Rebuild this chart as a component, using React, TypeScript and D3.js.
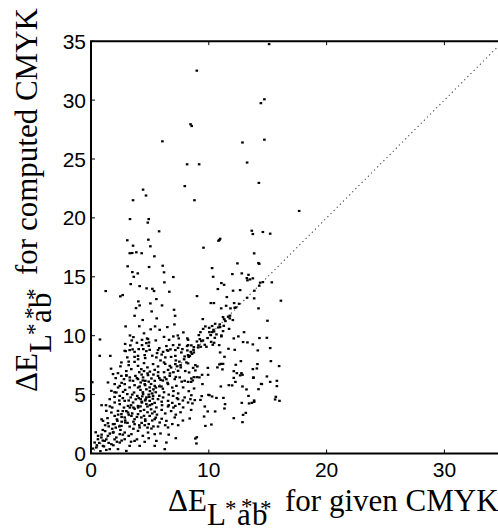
import React from "react";
import * as d3 from "d3";

// Axis ticks
const xTicks = [0, 10, 20, 30];
const yTicks = [0, 5, 10, 15, 20, 25, 30, 35];

// [given ΔE, computed ΔE]
const sparseHigh: [number, number][] = [
  [8.98, 32.5], [8.45, 27.95], [8.55, 27.8], [6.06, 26.5], [12.86, 26.4], [8.16, 24.55], [9.18, 24.55],
  [13.25, 24.7], [7.96, 22.7], [8.78, 21.5], [4.42, 22.4], [4.67, 21.9], [3.57, 21.5], [3.31, 19.9],
  [4.9, 19.9], [4.82, 19.6], [5.78, 18.86], [3.08, 18.1], [4.87, 18.15], [3.57, 17.64], [5.04, 17.59],
  [3.29, 17.0], [3.5, 17.02], [3.85, 17.08], [4.3, 17.0], [5.38, 16.74], [10.96, 18.23], [10.82, 18.06],
  [10.9, 18.12], [9.55, 17.47], [15.12, 34.75], [14.72, 30.07], [14.42, 29.74], [14.72, 26.64],
  [14.25, 22.97], [17.67, 20.59], [13.65, 18.91], [13.74, 18.63], [14.59, 18.8], [15.21, 18.66], [13.85, 16.99],
];

const rightGroup: [number, number][] = [
  [14.22, 16.17], [14.28, 16.1], [13.74, 14.87], [13.5, 14.78], [14.36, 14.5], [14.59, 14.55], [15.35, 14.53],
  [14.28, 14.24], [13.87, 13.82], [13.85, 13.17], [16.12, 12.97], [14.22, 12.32], [14.98, 11.27], [14.3, 9.8],
  [14.93, 9.82], [13.74, 9.26], [14.16, 8.75], [15.21, 8.95], [15.27, 7.84], [15.97, 7.42], [13.74, 7.16],
  [14.08, 7.22], [14.13, 7.59], [13.79, 6.42], [14.93, 6.54], [15.21, 6.08], [15.78, 6.17], [15.78, 5.72],
  [14.5, 5.89], [14.22, 5.46], [15.69, 4.81], [15.63, 4.59], [16.0, 4.47], [13.85, 4.5], [13.65, 4.3],
];

const midUpper: [number, number][] = [
  [12.43, 16.14], [10.28, 15.74], [12.0, 15.23], [10.37, 15.0], [12.8, 15.29], [13.37, 15.17], [13.23, 14.89],
  [13.28, 14.7], [11.07, 14.47], [11.3, 14.32], [10.77, 13.96], [12.06, 13.82], [12.66, 13.87], [9.0, 13.36],
  [13.25, 13.22], [11.53, 13.28], [10.17, 12.77], [10.43, 12.77], [11.47, 12.54], [12.15, 12.77], [12.57, 12.71],
  [11.05, 12.32], [11.84, 12.32], [12.2, 12.37], [11.21, 11.58], [11.64, 11.61], [11.78, 11.47], [11.41, 11.24],
  [12.04, 11.33], [9.49, 11.41],
  [3.11, 15.89], [4.93, 15.83], [6.09, 15.94], [3.51, 15.4], [3.97, 15.29], [3.63, 15.0], [6.2, 15.38],
  [6.99, 14.98], [3.37, 14.38], [4.13, 14.21], [6.23, 14.53], [4.72, 14.02], [5.21, 13.98], [5.35, 13.79],
  [6.65, 13.73], [1.25, 13.79], [2.49, 13.34], [2.69, 13.45], [5.55, 13.11], [4.02, 12.91], [4.13, 12.57],
  [5.04, 12.74], [3.82, 12.34], [6.03, 12.57], [5.15, 12.06], [7.05, 12.2], [3.7, 11.69], [7.14, 11.69],
  [5.58, 11.47], [4.39, 11.33], [2.94, 10.79], [5.44, 10.79], [5.07, 10.54], [5.83, 10.5], [6.48, 10.73], [7.08, 10.96],
];

const midBand: [number, number][] = [
  [9.71, 10.79], [9.52, 10.58], [10.03, 10.67], [10.28, 10.82], [10.54, 11.01], [10.93, 10.96], [10.96, 10.73],
  [11.27, 10.84], [11.72, 10.58], [9.29, 10.3], [9.15, 10.05], [10.05, 10.3], [10.28, 10.3], [10.45, 10.36],
  [10.17, 10.05], [10.65, 10.11], [11.07, 10.02], [11.21, 10.39], [12.99, 10.3], [11.07, 9.94], [10.51, 9.82],
  [10.2, 9.48], [10.45, 9.4], [9.24, 9.71], [8.99, 9.51], [8.24, 9.65], [8.24, 9.2], [8.52, 9.18], [8.73, 9.03],
  [9.12, 9.18], [9.32, 9.06], [9.66, 9.23], [9.37, 9.54], [9.8, 9.06], [10.34, 9.23], [10.88, 9.2], [11.67, 8.89],
  [12.12, 9.77], [12.51, 9.94], [12.91, 9.46], [13.28, 9.43],
  [0.76, 9.68], [3.31, 10.02], [3.6, 9.88], [3.46, 9.6], [4.33, 9.65], [4.76, 9.77], [4.93, 9.43], [6.63, 9.65],
  [6.99, 9.94], [7.45, 9.77], [7.37, 10.02], [7.84, 10.28], [8.18, 9.77],
  [3.34, 9.18], [4.33, 9.2], [4.9, 9.14], [4.7, 9.37], [4.84, 9.71], [5.8, 8.95], [6.4, 9.12], [6.46, 8.78],
  [6.97, 9.2], [6.74, 8.84], [7.5, 9.23], [7.39, 8.97], [8.16, 9.12], [7.16, 8.78], [7.76, 8.86], [5.69, 8.78],
  [3.28, 8.78], [2.94, 8.69], [3.53, 8.84], [4.44, 8.86], [4.98, 8.8],
  [8.47, 8.63], [8.58, 8.46], [8.73, 8.58], [8.39, 8.29], [8.24, 8.35], [10.96, 8.58], [11.33, 8.21], [12.2, 8.8],
];

const lowerRight: [number, number][] = [
  [8.24, 7.65], [8.86, 7.5], [9.03, 7.39], [8.67, 7.27], [8.86, 7.05], [8.33, 6.88], [9.92, 7.27], [10.73, 7.31],
  [10.9, 7.56], [11.02, 7.61], [11.21, 7.61], [11.16, 7.14], [12.72, 7.84], [12.29, 7.53], [12.12, 6.99],
  [12.38, 6.82], [12.77, 6.82], [12.86, 6.68], [12.66, 6.63], [14.44, 5.91], [8.73, 6.48], [8.52, 6.37],
  [8.98, 6.48], [9.2, 6.46], [9.43, 6.68], [9.94, 6.68], [8.64, 6.2], [8.24, 6.08], [8.5, 6.08], [9.46, 5.89],
  [11.02, 5.69], [11.7, 5.8], [11.98, 5.78], [12.86, 5.69], [13.2, 5.44], [13.79, 6.46], [12.12, 6.42],
  [12.26, 6.08], [8.3, 5.29], [8.75, 5.52], [8.52, 4.95], [9.4, 4.87], [9.97, 4.98], [10.05, 4.95], [10.28, 4.84],
  [10.65, 4.72], [11.24, 4.72], [8.81, 4.53], [9.29, 4.55], [8.44, 4.61], [8.24, 4.33], [8.61, 4.25],
  [13.37, 4.89], [13.85, 4.38], [12.8, 4.3], [13.42, 4.25], [11.38, 4.19], [11.33, 3.82], [9.66, 3.99],
  [9.91, 3.57], [10.54, 3.57], [8.5, 3.7], [13.14, 3.45], [12.91, 3.28], [9.6, 3.14], [12.12, 3.0], [8.38, 2.97],
  [12.86, 2.66], [10.22, 2.46], [9.71, 2.34], [8.98, 1.38], [8.86, 1.27], [8.95, 0.85],
];

const denseLeft: [number, number][] = [
  [0.74, 8.29], [1.64, 8.29], [2.86, 8.72], [3.7, 8.63], [4.05, 8.86], [4.7, 8.69], [5.61, 8.52], [6.12, 8.63],
  [6.54, 8.72], [7.67, 8.58], [8.18, 8.75], [3.08, 8.16], [3.99, 8.29], [4.56, 8.35], [5.55, 8.16], [6.31, 8.16],
  [7.16, 8.29], [7.95, 8.24], [0.11, 6.05], [0.9, 4.1], [1.27, 4.1],
  [2.58, 7.73], [3.2, 7.5], [3.7, 7.78], [3.99, 7.44], [4.5, 7.67], [4.79, 7.31], [5.27, 7.59], [5.69, 7.39],
  [6.2, 7.73], [6.69, 7.44], [7.16, 7.59], [7.62, 7.31], [8.1, 7.73], [3.42, 7.16], [4.27, 7.16], [5.41, 7.1],
  [6.54, 7.1], [7.39, 7.02],
  [1.87, 6.74], [2.29, 6.82], [2.58, 6.59], [2.8, 6.31], [3.0, 6.65], [3.29, 6.46], [3.57, 6.17], [3.77, 6.59],
  [3.99, 6.31], [4.22, 6.03], [4.42, 6.46], [4.61, 6.17], [4.84, 6.65], [5.13, 6.37], [5.41, 6.17], [5.69, 6.59],
  [5.91, 6.25], [6.26, 6.46], [6.69, 6.59], [7.11, 6.31], [7.53, 6.46], [7.95, 6.17], [1.44, 6.03], [2.01, 5.89],
  [2.44, 5.74], [2.86, 5.89], [3.28, 5.61], [3.7, 5.8], [4.13, 5.69], [4.56, 5.89], [4.98, 5.61], [5.41, 5.74],
  [5.98, 5.69], [6.54, 5.89], [7.25, 5.74], [7.82, 5.61],
  [1.73, 5.32], [2.15, 5.18], [2.44, 4.89], [2.72, 5.23], [3.08, 5.04], [3.37, 4.76], [3.65, 5.18], [3.93, 4.89],
  [4.22, 4.61], [4.42, 5.04], [4.7, 4.76], [4.98, 4.47], [5.27, 4.89], [5.69, 4.61], [6.12, 4.76], [6.54, 4.47],
  [6.97, 4.89], [7.39, 4.61], [7.95, 4.76], [1.59, 4.61], [2.01, 4.33], [2.44, 4.19], [2.86, 4.47], [3.14, 4.04],
  [3.57, 4.33], [3.99, 4.04], [4.33, 4.33], [4.79, 3.99], [5.18, 4.19], [5.55, 3.91], [6.03, 4.1], [6.54, 3.99],
  [7.16, 4.04], [7.82, 3.91],
  [1.3, 3.62], [1.73, 3.48], [2.01, 3.19], [2.29, 3.62], [2.58, 3.34], [2.86, 3.06], [3.14, 3.48], [3.43, 3.19],
  [3.7, 2.91], [3.99, 3.34], [4.27, 3.06], [4.61, 2.77], [4.98, 3.19], [5.41, 2.91], [5.83, 2.63], [6.4, 2.77],
  [7.11, 3.06], [1.02, 2.77], [1.44, 2.57], [1.87, 2.49], [2.24, 2.77], [2.58, 2.34], [2.91, 2.63], [3.28, 2.29],
  [3.7, 2.49], [4.13, 2.21], [4.56, 2.4], [5.13, 2.12], [5.69, 2.29], [6.54, 2.21],
  [0.31, 0.93], [0.59, 1.21], [0.88, 1.36], [1.16, 1.07], [1.44, 1.5], [1.73, 0.79], [2.15, 1.36], [2.44, 0.93],
  [2.86, 1.21], [3.28, 0.65], [3.7, 1.07], [4.13, 0.65], [4.56, 0.99], [5.41, 0.65], [6.26, 0.37], [0.45, 0.51],
  [1.02, 0.65], [1.59, 0.37], [2.29, 0.37], [3.0, 0.22], [6.4, 0.93], [3.99, 1.92], [3.43, 1.64], [2.86, 1.78],
  [2.44, 1.64], [4.84, 1.78], [5.41, 1.64], [5.55, 1.07], [0.17, 0.42], [1.87, 1.78],
];

const diagonalBand: [number, number][] = [
  [1.0, 1.1], [1.3, 1.2], [1.6, 1.7], [1.9, 1.8], [2.1, 2.2], [2.4, 2.3], [2.6, 2.7], [2.9, 2.8], [3.2, 3.3],
  [3.5, 3.4], [3.7, 3.8], [4.0, 3.9], [4.3, 4.4], [4.6, 4.5], [4.9, 5.0], [5.2, 5.1], [5.5, 5.6], [5.8, 5.7],
  [6.1, 6.2], [6.4, 6.3], [6.7, 6.8], [7.0, 6.9], [7.3, 7.4], [7.6, 7.5], [7.9, 8.0], [8.3, 8.2], [8.7, 8.8],
  [9.1, 9.0], [9.5, 9.6], [9.9, 9.8], [10.4, 10.5], [10.8, 10.7], [11.3, 11.4], [11.8, 11.7], [12.3, 12.4],
  [4.1, 6.9], [4.3, 6.7], [4.5, 7.0], [4.8, 6.8], [5.0, 6.95], [4.2, 5.4], [4.4, 5.2], [4.7, 5.45], [5.0, 5.3],
  [5.3, 5.45], [4.05, 4.7], [4.35, 4.85], [4.65, 4.6], [4.95, 4.8], [5.25, 4.65], [4.2, 3.6], [4.5, 3.7],
  [4.8, 3.5], [5.1, 3.75], [5.4, 3.55], [4.3, 2.6], [4.6, 2.9], [4.9, 2.5], [5.2, 2.8], [5.5, 3.05], [3.4, 4.1],
  [3.6, 3.9], [3.2, 4.5], [3.0, 3.6], [2.8, 3.9], [2.6, 3.1], [2.2, 2.9], [2.0, 2.5], [1.8, 2.1], [1.5, 2.3],
  [1.2, 1.9], [0.9, 1.6], [0.7, 0.9], [0.5, 0.7], [1.1, 0.6], [1.5, 0.9], [2.0, 1.2], [2.6, 1.1], [3.2, 1.5],
  [3.6, 2.1], [6.2, 5.2], [6.6, 5.0], [7.0, 5.3], [7.4, 5.1], [6.3, 3.4], [6.8, 3.6], [7.2, 3.3], [7.6, 3.5],
  [6.0, 2.95], [6.9, 2.5], [7.4, 2.4], [7.8, 2.8], [6.6, 1.6], [7.2, 1.3], [5.9, 1.7], [6.9, 4.3], [7.5, 4.2],
  [2.3, 5.6], [2.1, 6.4], [1.7, 7.2], [2.5, 7.4], [3.0, 7.0], [3.7, 8.2], [4.6, 8.1], [5.9, 7.9], [6.3, 7.6],
  [5.8, 6.4], [6.0, 4.4], [3.3, 6.2], [3.9, 6.4], [2.7, 4.7], [2.4, 4.5],
];

const extraDense: [number, number][] = [
  [1.2, 2.4], [1.4, 3.0], [1.8, 3.9], [2.0, 4.8], [2.3, 3.3], [2.5, 2.0], [2.7, 3.6], [2.9, 5.4], [3.1, 2.6],
  [3.3, 3.9], [3.5, 5.0], [3.6, 2.7], [3.8, 4.6], [3.9, 3.1], [4.0, 5.6], [4.1, 2.4], [4.2, 4.0], [4.4, 6.2],
  [4.5, 3.2], [4.6, 5.8], [4.7, 4.2], [4.8, 2.2], [4.9, 6.1], [5.0, 4.1], [5.1, 5.9], [5.2, 3.4], [5.3, 6.7],
  [5.4, 4.3], [5.5, 5.2], [5.6, 3.3], [5.7, 6.9], [5.8, 4.9], [6.0, 3.7], [6.1, 5.5], [6.2, 6.9], [6.3, 2.4],
  [6.5, 6.0], [6.6, 4.1], [6.8, 7.3], [6.9, 5.6], [7.0, 3.9], [7.2, 6.5], [7.3, 4.7], [7.5, 7.8], [7.7, 6.1],
  [7.8, 4.5], [8.0, 7.0], [3.4, 1.0], [3.9, 1.2], [4.4, 1.5], [4.9, 1.3], [5.3, 2.3], [2.2, 1.0], [2.7, 1.6],
  [1.9, 0.7], [1.3, 0.3], [0.8, 0.2], [0.6, 1.5], [1.0, 2.0], [0.4, 1.8], [0.9, 2.9], [1.6, 4.0], [2.0, 5.2],
  [2.6, 6.0], [3.0, 6.6], [3.2, 7.8], [4.0, 8.0], [5.2, 8.3], [6.0, 8.4], [6.8, 8.2], [7.2, 7.9], [2.9, 9.3],
  [3.9, 9.4], [4.5, 10.2], [4.1, 10.8], [6.2, 9.9], [5.5, 9.6],
];

const allPoints = [
  ...sparseHigh, ...rightGroup, ...midUpper, ...midBand, ...lowerRight, ...denseLeft, ...diagonalBand, ...extraDense,
];

const W = 498;
const H = 529;
const x0 = 91;
const yBottom = 453.5;
const yTop = 41.2;
const pxPerUnit = (yBottom - yTop) / 35;

const x = d3.scaleLinear().domain([0, 35]).range([x0, x0 + 35 * pxPerUnit]);
const y = d3.scaleLinear().domain([0, 35]).range([yBottom, yTop]);

const tickFont = "'Liberation Sans', Arial, Helvetica, sans-serif";
const labelFont = "'Liberation Serif', 'Times New Roman', Times, serif";

// Axis label drawn in local coordinates: start at (0,0) on the baseline.
function AxisLabel({ rest }: { rest: string }) {
  const size = 31;
  const star = 23;
  const sub = 14;
  const sup = 5;
  return (
    <g fontFamily={labelFont} fill="#000">
      <text x={0} y={0} fontSize={size}>ΔE</text>
      <text x={39} y={sub} fontSize={size}>L</text>
      <text x={57} y={sup} fontSize={star}>*</text>
      <text x={69} y={sub} fontSize={size}>a</text>
      <text x={73} y={sup - 2} fontSize={star}>*</text>
      <text x={84} y={sub} fontSize={size}>b</text>
      <text x={92} y={sup} fontSize={star}>*</text>
      <text x={117} y={0} fontSize={size}>{rest}</text>
    </g>
  );
}

export default function App() {
  const xr = x.range()[1];
  const tickLen = 4;
  return (
    <svg
      width={W}
      height={H}
      viewBox={`0 0 ${W} ${H}`}
      style={{ position: "absolute", left: 0, top: 0, background: "#fff" }}
    >
      <rect x={0} y={0} width={W} height={H} fill="#fff" />
      {/* identity line */}
      <line
        x1={x(0)}
        y1={y(0)}
        x2={x(35)}
        y2={y(35)}
        stroke="#444"
        strokeWidth={1.1}
        strokeDasharray="1.2,3.2"
      />
      {/* points */}
      {allPoints.map(([gx, cy], i) => (
        <rect key={i} x={x(gx) - 1.3} y={y(cy) - 1.1} width={2.6} height={2.2} fill="#000" />
      ))}
      {/* box */}
      <line x1={x0} y1={yTop} x2={x0} y2={yBottom} stroke="#000" strokeWidth={2} />
      <line x1={x0 - 1} y1={yBottom} x2={xr} y2={yBottom} stroke="#000" strokeWidth={2} />
      <line x1={x0 - 1} y1={yTop} x2={xr} y2={yTop} stroke="#000" strokeWidth={2} />
      <line x1={xr} y1={yTop} x2={xr} y2={yBottom} stroke="#000" strokeWidth={2} />
      {/* x ticks */}
      {xTicks.map((t) => (
        <g key={"xt" + t}>
          <line x1={x(t)} x2={x(t)} y1={yBottom} y2={yBottom - tickLen} stroke="#000" strokeWidth={1} />
          <line x1={x(t)} x2={x(t)} y1={yTop} y2={yTop + tickLen} stroke="#000" strokeWidth={1} />
          <text x={x(t)} y={477} textAnchor="middle" fontFamily={tickFont} fontSize={21} fill="#000">
            {t}
          </text>
        </g>
      ))}
      {/* y ticks */}
      {yTicks.map((t) => (
        <g key={"yt" + t}>
          <line x1={x0} x2={x0 + tickLen} y1={y(t)} y2={y(t)} stroke="#000" strokeWidth={1} />
          <line x1={xr} x2={xr - tickLen} y1={y(t)} y2={y(t)} stroke="#000" strokeWidth={1} />
          <text
            x={86}
            y={y(t)}
            dy="0.36em"
            textAnchor="end"
            fontFamily={tickFont}
            fontSize={21}
            fill="#000"
          >
            {t}
          </text>
        </g>
      ))}
      {/* x label */}
      <g transform="translate(168,511)">
        <AxisLabel rest="for given CMYK" />
      </g>
      {/* y label */}
      <g transform="translate(37,392) rotate(-90)">
        <AxisLabel rest="for computed CMYK" />
      </g>
    </svg>
  );
}
